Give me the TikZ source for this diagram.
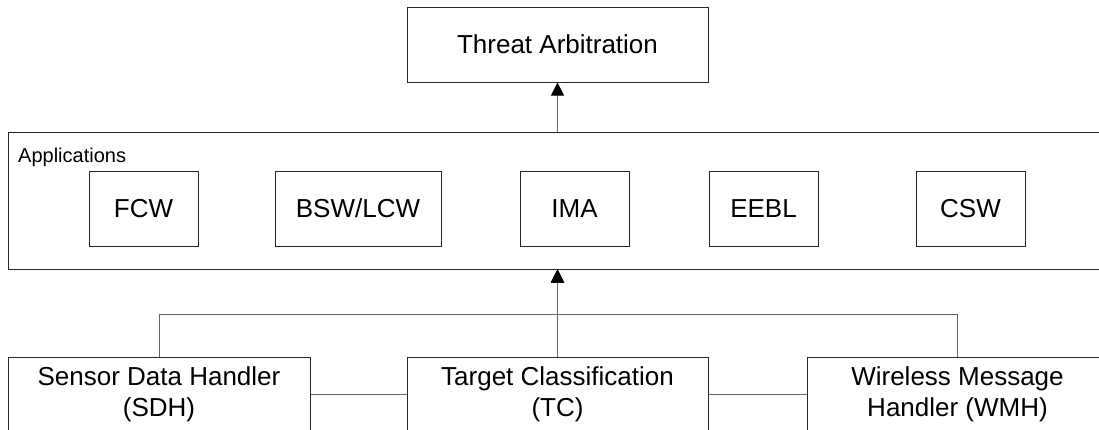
\documentclass[tikz,border=0pt]{standalone}
\usepackage{fontspec}
\setmainfont{Liberation Sans}
\usetikzlibrary{arrows.meta}
\begin{document}
\begin{tikzpicture}[x=1pt,y=-1pt,
  box/.style={draw=black!85, line width=1pt, rectangle, inner sep=0pt,
    font=\fontsize{26}{31}\selectfont, align=center, minimum height=75pt},
  small/.style={box, minimum width=109pt},
  conn/.style={draw=black!60, line width=1pt},
  arr/.style={conn, -{Triangle[width=13pt,length=13pt,color=black,fill=black]}},
  lbl/.style={inner sep=0pt, font=\fontsize{20}{24}\selectfont}
]
\useasboundingbox (0,0) rectangle (1099,429);
\clip (0,0) rectangle (1099,429);
\fill[white] (0,0) rectangle (1099,429);

\node[box, minimum width=301pt] (threat) at (557.5,44.5) {Threat Arbitration};

\node[box, minimum width=1093pt, minimum height=137pt] (apps) at (554.5,200.5) {};
\node[lbl, anchor=base west] (appslabel) at (18,162) {Applications};

\node[small] (fcw) at (143.5,208.5) {FCW};
\node[box, minimum width=166pt] (bsw) at (358,208.5) {BSW/LCW};
\node[small] (ima) at (574.5,208.5) {IMA};
\node[small] (eebl) at (763.5,208.5) {EEBL};
\node[small] (csw) at (970.5,208.5) {CSW};

\node[box, minimum width=302pt] (sdh) at (159,394.5) {Sensor Data Handler\\(SDH)};
\node[box, minimum width=301pt] (tc) at (557.5,394.5) {Target Classification\\(TC)};
\node[box, minimum width=301pt] (wmh) at (957.5,394.5) {Wireless Message\\Handler (WMH)};

\coordinate (junction) at (557.5,314);

\draw[conn] (sdh.east) -- (tc.west);
\draw[conn] (tc.east) -- (wmh.west);
\draw[arr] (sdh.north) |- (junction) -- (junction |- apps.south);
\draw[arr] (wmh.north) |- (junction) -- (junction |- apps.south);
\draw[arr] (tc.north) -- (tc.north |- apps.south);
\draw[arr] (apps.north -| threat.south) -- (threat.south);
\end{tikzpicture}
\end{document}
